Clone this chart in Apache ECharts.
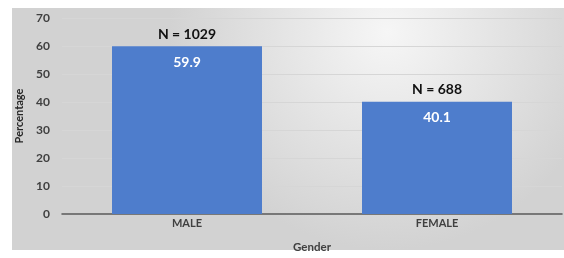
<!DOCTYPE html>
<html>
<head>
<meta charset="utf-8">
<script src="https://cdn.jsdelivr.net/npm/echarts@6/dist/echarts.min.js"></script>
<style>
  html, body { margin: 0; padding: 0; background: #ffffff; }
  #chart { width: 564px; height: 258px; }
</style>
</head>
<body>
<div id="chart"></div>
<script>
const categories = ['MALE', 'FEMALE'];
const percentages = [59.9, 40.1];
const counts = [1029, 688];
const yTicks = [0, 10, 20, 30, 40, 50, 60, 70];

const chart = echarts.init(document.getElementById('chart'));

const option = {
  animation: false,
  textStyle: { fontFamily: 'Lato, sans-serif' },
  graphic: [
    {
      type: 'rect',
      z: -10,
      shape: { x: 12, y: 8, width: 552, height: 242 },
      style: {
        fill: new echarts.graphic.RadialGradient(0.68, 0.1, 0.9, [
          { offset: 0, color: '#f6f6f6' },
          { offset: 1, color: '#d2d2d2' }
        ])
      }
    }
  ],
  grid: { left: 62, right: 2, top: 18, bottom: 44, outerBoundsMode: 'none', containLabel: false },
  xAxis: {
    type: 'category',
    data: categories,
    name: 'Gender',
    nameLocation: 'middle',
    nameGap: 27,
    nameTextStyle: { fontSize: 11.5, fontWeight: 'bold', color: '#404040' },
    axisLine: { lineStyle: { color: '#595959', width: 1.5 } },
    axisTick: { show: false },
    axisLabel: { fontSize: 11, fontWeight: 'bold', color: '#404040', margin: 4 }
  },
  yAxis: {
    type: 'value',
    min: yTicks[0],
    max: yTicks[yTicks.length - 1],
    interval: 10,
    name: 'Percentage',
    nameLocation: 'middle',
    nameGap: 34,
    nameTextStyle: { fontSize: 11, fontWeight: 'bold', color: '#262626' },
    axisLine: { show: false },
    axisTick: { show: false },
    axisLabel: { fontSize: 12, fontWeight: 'bold', color: '#404040', margin: 12 },
    splitLine: { lineStyle: { color: '#d6d6d6', width: 1 } }
  },
  series: [
    {
      type: 'bar',
      data: percentages,
      barWidth: '60%',
      itemStyle: { color: '#4e7dcc' },
      label: {
        show: true,
        position: 'insideTop',
        distance: 9,
        color: '#ffffff',
        fontSize: 14,
        fontWeight: 'bold',
        formatter: (p) => p.value.toFixed(1)
      }
    },
    {
      type: 'bar',
      data: percentages,
      barWidth: '60%',
      barGap: '-100%',
      itemStyle: { color: 'rgba(0,0,0,0)' },
      label: {
        show: true,
        position: 'top',
        distance: 5,
        color: '#111111',
        fontSize: 14,
        fontWeight: 'bold',
        formatter: (p) => 'N = ' + counts[p.dataIndex]
      }
    }
  ]
};

chart.setOption(option);
</script>
</body>
</html>
